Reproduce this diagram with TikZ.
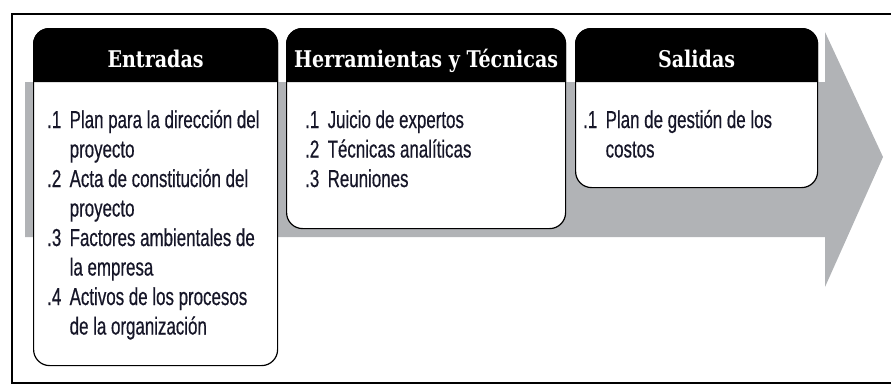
\documentclass[tikz,border=0pt]{standalone}
\usepackage{fontspec}
\newfontfamily\headfont{DejaVu Serif}[FakeStretch=0.83]
\newfontfamily\bodyfont{Liberation Sans}[FakeStretch=0.69, FakeBold=0.5]
\definecolor{arrowgray}{RGB}{177,179,182}
\definecolor{listtext}{RGB}{22,22,40}
\newcommand\itm[1]{\makebox[22.5pt][l]{#1}}
\newcommand\cont{\hspace*{22.5pt}}

\begin{document}
\begin{tikzpicture}[
    x=1pt, y=-1pt,
    box/.style={draw=black, line width=1.2pt, fill=white, rounded corners=16pt,
                anchor=north west, inner sep=0pt},
    head/.style={text=white, anchor=base, inner sep=0pt,
                 font=\headfont\bfseries\fontsize{23}{26}\selectfont},
    list/.style={align=left, anchor=base west, inner sep=0pt, text=listtext,
                 font=\bodyfont\fontsize{24.5}{29.5}\selectfont}
]
\useasboundingbox (0,0) rectangle (891,386);

% frame
\draw[line width=2.5pt] (893,14) -- (12,14) -- (12,383) -- (893,383);

% big arrow
\fill[arrowgray] (25,82) -- (825,82) -- (825,32) -- (883,157)
    -- (825,287) -- (825,237) -- (25,237) -- cycle;

% boxes
\node[box, minimum width=244pt, minimum height=337pt] (ent) at (33,28) {};
\node[box, minimum width=279pt, minimum height=200pt] (her) at (286,28) {};
\node[box, minimum width=242pt, minimum height=159pt] (sal) at (575,28) {};

\foreach \b in {ent,her,sal}
  \fill (\b.west |- 0,82) [rounded corners=16pt] -- (\b.north west)
      -- (\b.north east) [sharp corners] -- (\b.east |- 0,82) -- cycle;

\node[head] (entH) at (ent.north |- 0,67) {Entradas};
\node[head] (herH) at (her.north |- 0,67) {Herramientas y Técnicas};
\node[head] (salH) at (sal.north |- 0,67) {Salidas};

% lists (base = last line)
\node[list] (entL) at (47,334.5) {\itm{.1}Plan para la dirección del\\
  \cont proyecto\\
  \itm{.2}Acta de constitución del\\
  \cont proyecto\\
  \itm{.3}Factores ambientales de\\
  \cont la empresa\\
  \itm{.4}Activos de los procesos\\
  \cont de la organización};
\node[list] (herL) at (305,187) {\itm{.1}Juicio de expertos\\
  \itm{.2}Técnicas analíticas\\
  \itm{.3}Reuniones};
\node[list] (salL) at (583,157.5) {\itm{.1}Plan de gestión de los\\
  \cont costos};

\end{tikzpicture}
\end{document}
